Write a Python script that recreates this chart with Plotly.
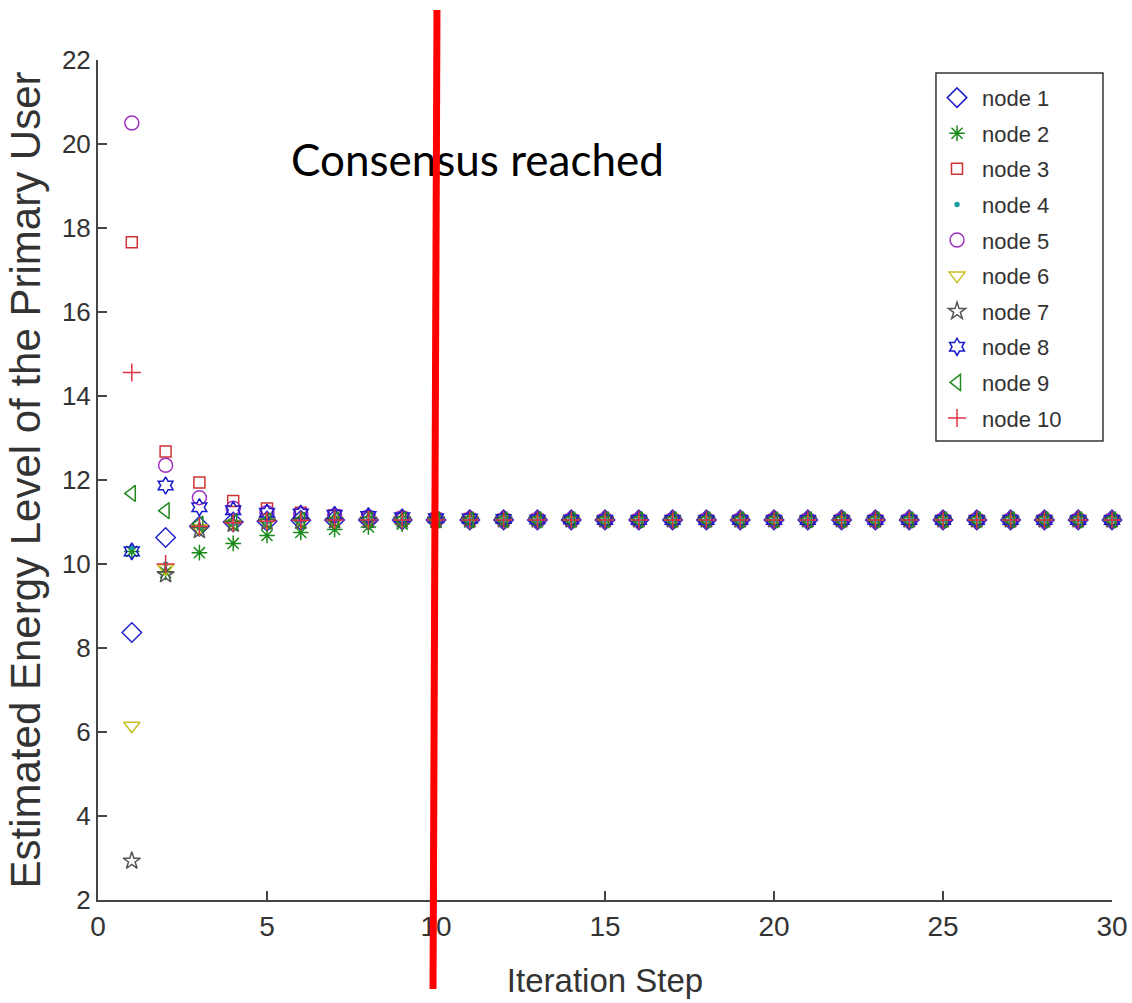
import plotly.graph_objects as go

# Iteration steps 1..30
steps = list(range(1, 31))

# Estimated energy level per node at each iteration step
node1 = [8.37, 10.63, 10.90, 11.00, 11.02, 11.04, 11.05, 11.05, 11.05, 11.05,
         11.05, 11.05, 11.05, 11.05, 11.05, 11.05, 11.05, 11.05, 11.05, 11.05,
         11.05, 11.05, 11.05, 11.05, 11.05, 11.05, 11.05, 11.05, 11.05, 11.05]
node2 = [10.30, 9.80, 10.27, 10.49, 10.68, 10.75, 10.82, 10.88, 10.95, 10.99,
         11.01, 11.03, 11.04, 11.04, 11.05, 11.05, 11.05, 11.05, 11.05, 11.05,
         11.05, 11.05, 11.05, 11.05, 11.05, 11.05, 11.05, 11.05, 11.05, 11.05]
node3 = [17.66, 12.68, 11.94, 11.50, 11.32, 11.22, 11.16, 11.12, 11.10, 11.08,
         11.07, 11.06, 11.06, 11.05, 11.05, 11.05, 11.05, 11.05, 11.05, 11.05,
         11.05, 11.05, 11.05, 11.05, 11.05, 11.05, 11.05, 11.05, 11.05, 11.05]
node4 = [10.40, 10.00, 10.85, 10.95, 11.00, 11.02, 11.03, 11.04, 11.05, 11.05,
         11.05, 11.05, 11.05, 11.05, 11.05, 11.05, 11.05, 11.05, 11.05, 11.05,
         11.05, 11.05, 11.05, 11.05, 11.05, 11.05, 11.05, 11.05, 11.05, 11.05]
node5 = [20.50, 12.35, 11.58, 11.33, 11.22, 11.18, 11.15, 11.12, 11.10, 11.08,
         11.07, 11.06, 11.06, 11.05, 11.05, 11.05, 11.05, 11.05, 11.05, 11.05,
         11.05, 11.05, 11.05, 11.05, 11.05, 11.05, 11.05, 11.05, 11.05, 11.05]
node6 = [6.15, 9.90, 10.85, 10.95, 11.00, 11.02, 11.03, 11.04, 11.05, 11.05,
         11.05, 11.05, 11.05, 11.05, 11.05, 11.05, 11.05, 11.05, 11.05, 11.05,
         11.05, 11.05, 11.05, 11.05, 11.05, 11.05, 11.05, 11.05, 11.05, 11.05]
node7 = [2.93, 9.75, 10.80, 10.95, 11.00, 11.02, 11.03, 11.04, 11.05, 11.05,
         11.05, 11.05, 11.05, 11.05, 11.05, 11.05, 11.05, 11.05, 11.05, 11.05,
         11.05, 11.05, 11.05, 11.05, 11.05, 11.05, 11.05, 11.05, 11.05, 11.05]
node8 = [10.30, 11.87, 11.35, 11.28, 11.22, 11.20, 11.17, 11.14, 11.11, 11.09,
         11.08, 11.07, 11.06, 11.06, 11.05, 11.05, 11.05, 11.05, 11.05, 11.05,
         11.05, 11.05, 11.05, 11.05, 11.05, 11.05, 11.05, 11.05, 11.05, 11.05]
node9 = [11.68, 11.27, 10.95, 11.00, 11.02, 11.04, 11.05, 11.05, 11.05, 11.05,
         11.05, 11.05, 11.05, 11.05, 11.05, 11.05, 11.05, 11.05, 11.05, 11.05,
         11.05, 11.05, 11.05, 11.05, 11.05, 11.05, 11.05, 11.05, 11.05, 11.05]
node10 = [14.56, 10.00, 10.90, 10.98, 11.02, 11.04, 11.05, 11.05, 11.05, 11.05,
          11.05, 11.05, 11.05, 11.05, 11.05, 11.05, 11.05, 11.05, 11.05, 11.05,
          11.05, 11.05, 11.05, 11.05, 11.05, 11.05, 11.05, 11.05, 11.05, 11.05]

series_names = ["node 1", "node 2", "node 3", "node 4", "node 5",
                "node 6", "node 7", "node 8", "node 9", "node 10"]
series_values = [node1, node2, node3, node4, node5,
                 node6, node7, node8, node9, node10]

x_tick_values = [0, 5, 10, 15, 20, 25, 30]
y_tick_values = [2, 4, 6, 8, 10, 12, 14, 16, 18, 20, 22]

consensus_label = "Consensus reached"

# marker style per node: (symbol, colour, size)
styles = [
    ("diamond-open", "#2222cc", 15),
    ("asterisk-open", "#1a8a1a", 13),
    ("square-open", "#cc3333", 11),
    ("circle", "#20a0a0", 4),
    ("circle-open", "#a030c0", 14),
    ("triangle-down-open", "#c8c020", 14),
    ("star-open", "#555555", 13),
    ("hexagram-open", "#1a1acc", 13),
    ("triangle-left-open", "#208a20", 14),
    ("cross-thin-open", "#dd3344", 13),
]

fig = go.Figure()
for i, (name, vals) in enumerate(zip(series_names, series_values)):
    sym, col, size = styles[i]
    fig.add_trace(go.Scatter(
        x=steps, y=vals, mode="markers", name=name,
        legendgroup=name,
        marker=dict(symbol=sym, color=col, size=size,
                    line=dict(color=col, width=1.5)),
        cliponaxis=False,
    ))

# text label placed in data space, beneath the red marker line
fig.add_trace(go.Scatter(
    x=[5.71], y=[19.50], mode="text", text=[consensus_label],
    textposition="middle right", showlegend=False, hoverinfo="skip",
    textfont=dict(family="Lato, Carlito, sans-serif", size=44, color="#000000"),
    cliponaxis=False,
))

# red vertical marker line spanning beyond the plotting area
fig.add_shape(type="line", xref="paper", yref="paper",
              x0=0.3343, y0=1.0595, x1=0.3304, y1=-0.106,
              line=dict(color="#ff0000", width=7), layer="above")

# frame around the legend
fig.add_shape(type="rect", xref="paper", yref="paper",
              x0=0.8264, y0=0.5464, x1=0.9911, y1=0.9845,
              line=dict(color="#333333", width=1.5), fillcolor="rgba(0,0,0,0)",
              layer="above")

axis_color = "#444444"
fig.update_layout(
    width=1132, height=1003,
    margin=dict(l=98, r=20, t=60, b=103, autoexpand=False),
    paper_bgcolor="white", plot_bgcolor="white",
    showlegend=True,
    legend=dict(
        x=0.8225, y=0.980, xanchor="left", yanchor="top",
        borderwidth=0, bgcolor="rgba(0,0,0,0)",
        font=dict(family="Liberation Sans, Arial", size=22, color="#333333"),
        tracegroupgap=4,
        itemwidth=40,
    ),
    xaxis=dict(
        range=[0, 30], tickvals=x_tick_values,
        automargin=False, ticklabeloverflow="allow",
        showline=True, linecolor=axis_color, linewidth=2,
        ticks="inside", ticklen=9, tickcolor=axis_color, tickwidth=1.5,
        showgrid=False, zeroline=False,
        tickfont=dict(family="Liberation Sans, Arial", size=28, color="#333333"),
        title=dict(text="Iteration Step", standoff=28,
                   font=dict(family="Liberation Sans, Arial", size=33, color="#333333")),
    ),
    yaxis=dict(
        range=[2, 22], tickvals=y_tick_values,
        automargin=False,
        showline=True, linecolor=axis_color, linewidth=2,
        ticks="inside", ticklen=9, tickcolor=axis_color, tickwidth=1.5,
        showgrid=False, zeroline=False,
        tickfont=dict(family="Liberation Sans, Arial", size=26, color="#333333"),
        title=dict(text="Estimated Energy Level of the Primary User", standoff=8,
                   font=dict(family="Liberation Sans, Arial", size=42, color="#333333")),
    ),
)

fig.write_html("out.html")
